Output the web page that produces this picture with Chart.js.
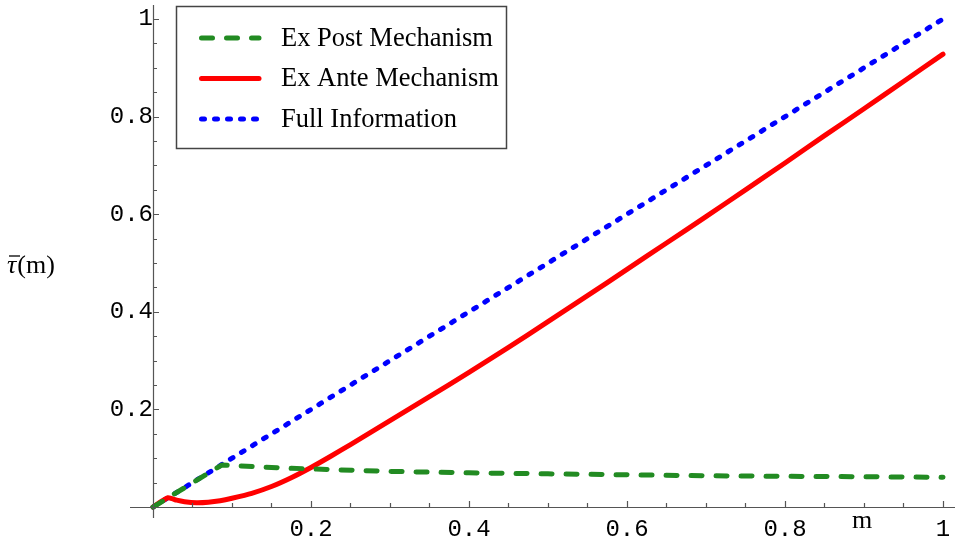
<!DOCTYPE html>
<html><head><meta charset="utf-8">
<script src="https://cdn.jsdelivr.net/npm/chart.js@4"></script>
<style>html,body{margin:0;padding:0;background:#fff}#wrap{width:956px;height:537px;position:relative}</style>
</head><body><div id="wrap"><canvas id="c"></canvas></div>
<script>
// ---- data ----
const mPost   = [0, 0.087, 0.1, 0.15, 0.2, 0.3, 0.4, 0.5, 0.6, 0.7, 0.8, 0.9, 1];
const tauPost = [0, 0.086, 0.085, 0.081, 0.078, 0.073, 0.070, 0.068, 0.066, 0.064, 0.063, 0.062, 0.061];
const mAnte   = [0, 0.019, 0.03, 0.04, 0.055, 0.07, 0.085, 0.1, 0.125, 0.15, 0.175, 0.2, 0.225, 0.25, 0.3, 0.35, 0.4, 0.45, 0.5, 0.55, 0.6, 0.65, 0.7, 0.75, 0.8, 0.85, 0.9, 0.95, 1];
const tauAnte = [0, 0.019, 0.014, 0.011, 0.009, 0.010, 0.013, 0.018, 0.028, 0.042, 0.060, 0.081, 0.104, 0.128, 0.177, 0.226, 0.276, 0.327, 0.380, 0.433, 0.487, 0.541, 0.595, 0.650, 0.705, 0.761, 0.816, 0.872, 0.928];
const mFull   = [0, 1];
const tauFull = [0, 1];
const seriesLabels = ['Ex Post Mechanism', 'Ex Ante Mechanism', 'Full Information'];
const tickValues = [0.05, 0.1, 0.15, 0.2, 0.25, 0.3, 0.35, 0.4, 0.45, 0.5, 0.55, 0.6, 0.65, 0.7, 0.75, 0.8, 0.85, 0.9, 0.95, 1];
const majorTicks = [0.2, 0.4, 0.6, 0.8, 1];
const majorTickLabels = ['0.2', '0.4', '0.6', '0.8', '1'];
const xTitle = 'm';
const yTitleSymbol = '\u03C4';
const yTitleRest = '(m)';

const pts = (xs, ys) => xs.map((x, i) => ({x: x, y: ys[i]}));
const isMajor = v => majorTicks.findIndex(t => Math.abs(t - v) < 1e-9);
const tickLabel = v => { const i = isMajor(v); return i >= 0 ? majorTickLabels[i] : ''; };
const noPad = s => { s.paddingTop = 0; s.paddingBottom = 0; s.paddingLeft = 0; s.paddingRight = 0; };

const AXIS = '#555';
const axesPlugin = {
  id: 'axesPlugin',
  afterDraw(chart) {
    const ctx = chart.ctx, xs = chart.scales.x, ys = chart.scales.y, a = chart.chartArea;
    const x0 = xs.getPixelForValue(0), y0 = ys.getPixelForValue(0);
    ctx.save();
    ctx.strokeStyle = AXIS; ctx.lineWidth = 1.2; ctx.setLineDash([]);
    ctx.beginPath();
    ctx.moveTo(a.left, Math.round(y0) + 0.5); ctx.lineTo(a.right, Math.round(y0) + 0.5);
    ctx.moveTo(Math.round(x0) + 0.5, a.top); ctx.lineTo(Math.round(x0) + 0.5, a.bottom);
    tickValues.forEach(v => {
      const len = isMajor(v) >= 0 ? 6 : 4;
      const px = Math.round(xs.getPixelForValue(v)) + 0.5;
      ctx.moveTo(px, y0); ctx.lineTo(px, y0 - len);
      const py = Math.round(ys.getPixelForValue(v)) + 0.5;
      ctx.moveTo(x0, py); ctx.lineTo(x0 + len, py);
    });
    ctx.stroke();
    // axis titles
    ctx.fillStyle = '#000';
    ctx.font = '26px "Liberation Serif"';
    ctx.textAlign = 'center'; ctx.textBaseline = 'middle';
    ctx.fillText(xTitle, 862, 521);
    ctx.textAlign = 'left';
    ctx.font = 'italic 26px "Liberation Serif"';
    ctx.fillText(yTitleSymbol, 7, 266);
    const tw = ctx.measureText(yTitleSymbol).width;
    ctx.font = '26px "Liberation Serif"';
    ctx.fillText(yTitleRest, 7 + tw + 1, 266);
    ctx.strokeStyle = '#000'; ctx.lineWidth = 1.3;
    ctx.beginPath(); ctx.moveTo(9, 256); ctx.lineTo(20, 256); ctx.stroke();
    // legend
    const bx = 176.5, by = 6.5, bw = 330, bh = 142;
    ctx.fillStyle = '#fff'; ctx.fillRect(bx, by, bw, bh);
    ctx.strokeStyle = '#444'; ctx.lineWidth = 1.5; ctx.strokeRect(bx, by, bw, bh);
    chart.data.datasets.forEach((ds, i) => {
      const y = 38 + i * 40.5;
      ctx.strokeStyle = ds.borderColor; ctx.lineWidth = ds.borderWidth; ctx.lineCap = 'round';
      ctx.setLineDash(ds.borderDash || []);
      ctx.beginPath(); ctx.moveTo(201.5, y); ctx.lineTo(259, y); ctx.stroke();
      ctx.setLineDash([]);
      ctx.fillStyle = '#000'; ctx.textAlign = 'left'; ctx.textBaseline = 'middle';
      ctx.font = '26.5px "Liberation Serif"';
      ctx.fillText(ds.label, 281, y + 1);
    });
    ctx.restore();
  }
};

new Chart(document.getElementById('c'), {
  type: 'line',
  data: {
    datasets: [
      {label: seriesLabels[0], data: pts(mPost, tauPost), borderColor: 'rgb(34,139,34)', borderWidth: 5, borderDash: [11, 14], borderCapStyle: 'round', pointRadius: 0, fill: false, tension: 0},
      {label: seriesLabels[1], data: pts(mAnte, tauAnte), borderColor: 'rgb(255,0,0)', borderWidth: 5, borderCapStyle: 'round', pointRadius: 0, fill: false, tension: 0.2},
      {label: seriesLabels[2], data: pts(mFull, tauFull), borderColor: 'rgb(0,0,255)', borderWidth: 5, borderDash: [3, 10], borderCapStyle: 'round', pointRadius: 0, fill: false, tension: 0}
    ]
  },
  options: {
    responsive: true, maintainAspectRatio: false, animation: false,
    layout: {padding: {left: 130, right: 1, top: 5, bottom: 19}},
    plugins: {legend: {display: false}, tooltip: {enabled: false}},
    elements: {line: {borderJoinStyle: 'round'}},
    scales: {
      x: {
        type: 'linear', position: {y: 0}, min: -0.0291, max: 1.0152,
        afterBuildTicks: s => { s.ticks = tickValues.map(v => ({value: v})); },
        afterFit: s => { s.height = 0; noPad(s); },
        grid: {display: false, drawTicks: false}, border: {display: false},
        ticks: {autoSkip: false, maxRotation: 0, padding: 8, color: '#000', font: {family: 'Liberation Mono', size: 24}, callback: v => tickLabel(v)}
      },
      y: {
        type: 'linear', position: {x: 0}, min: -0.0225, max: 1.0287,
        afterBuildTicks: s => { s.ticks = tickValues.map(v => ({value: v})); },
        afterFit: s => { s.width = 0; noPad(s); },
        grid: {display: false, drawTicks: false}, border: {display: false},
        ticks: {autoSkip: false, padding: 8, color: '#000', font: {family: 'Liberation Mono', size: 24}, callback: v => tickLabel(v)}
      }
    }
  },
  plugins: [axesPlugin]
});
</script>
</body></html>
